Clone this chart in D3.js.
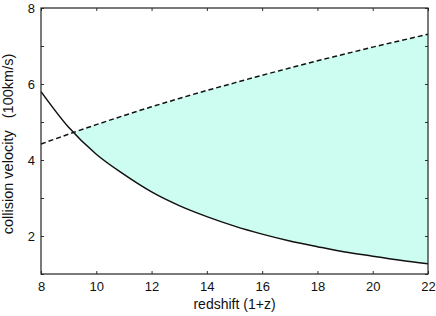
<!DOCTYPE html>
<html>
<head>
<meta charset="utf-8">
<script src="https://cdn.jsdelivr.net/npm/d3@7"></script>
<style>
  body { margin: 0; background: #fff; }
  text { font-family: "Liberation Sans", Arial, sans-serif; fill: #111; }
</style>
</head>
<body>
<div id="container"></div>
<script>
const WIDTH = 436;
const HEIGHT = 316;
const MARGIN = { TOP: 8, BOTTOM: 42, LEFT: 41, RIGHT: 8 };

const width = WIDTH - MARGIN.LEFT - MARGIN.RIGHT;
const height = HEIGHT - MARGIN.TOP - MARGIN.BOTTOM;

// redshift (1+z) sample points
const redshift = [8, 9, 10, 11, 12, 13, 14, 15, 16, 17, 18, 19, 20, 21, 22];
// solid curve, decreasing
const solidVel = [5.80, 4.86, 4.15, 3.62, 3.16, 2.80, 2.51, 2.26, 2.05, 1.87, 1.72, 1.58, 1.47, 1.36, 1.27];
// dashed curve, increasing
const dashedVel = [4.42, 4.68, 4.93, 5.17, 5.40, 5.62, 5.83, 6.03, 6.23, 6.42, 6.61, 6.79, 6.97, 7.14, 7.31];

const xTicks = [8, 10, 12, 14, 16, 18, 20, 22];
const yTicks = [1, 2, 3, 4, 5, 6, 7, 8];
const yLabels = [2, 4, 6, 8];

const points = redshift.map((z, i) => ({ z, s: solidVel[i], d: dashedVel[i] }));

const svg = d3.select('#container')
  .append('svg')
    .attr('width', WIDTH)
    .attr('height', HEIGHT);

const g = svg.append('g')
    .attr('transform', `translate(${MARGIN.LEFT}, ${MARGIN.TOP})`);

const x = d3.scaleLinear().domain([8, 22]).range([0, width]);
const y = d3.scaleLinear().domain([1, 8]).range([height, 0]);

// clip: only the region above the solid curve
g.append('clipPath')
    .attr('id', 'aboveSolid')
  .append('path')
    .attr('d', d3.area()
      .x(p => x(p.z))
      .y0(p => y(p.s))
      .y1(0)
      .curve(d3.curveMonotoneX)(points));

g.append('path')
    .attr('clip-path', 'url(#aboveSolid)')
    .attr('fill', '#ccfdf0')
    .attr('d', d3.area()
      .x(p => x(p.z))
      .y0(p => y(p.s))
      .y1(p => y(p.d))
      .curve(d3.curveMonotoneX)(points));

g.append('path')
    .attr('fill', 'none')
    .attr('stroke', '#111')
    .attr('stroke-width', 1.5)
    .attr('d', d3.line().x(p => x(p.z)).y(p => y(p.s)).curve(d3.curveMonotoneX)(points));

g.append('path')
    .attr('fill', 'none')
    .attr('stroke', '#111')
    .attr('stroke-width', 1.5)
    .attr('stroke-dasharray', '5,3')
    .attr('d', d3.line().x(p => x(p.z)).y(p => y(p.d)).curve(d3.curveMonotoneX)(points));

// axes with inward ticks on all sides
const tick = 3;
const axisStyle = sel => {
  sel.select('.domain').remove();
  sel.selectAll('line').attr('stroke', '#333');
  sel.selectAll('text').attr('font-size', 13).attr('font-family', '"Liberation Sans", Arial, sans-serif');
};

g.append('g')
    .attr('transform', `translate(0, ${height})`)
    .call(d3.axisBottom(x).tickValues(xTicks).tickSizeInner(-tick).tickSizeOuter(0).tickPadding(8))
    .call(axisStyle);

g.append('g')
    .call(d3.axisTop(x).tickValues(xTicks).tickSizeInner(-tick).tickSizeOuter(0).tickFormat(''))
    .call(axisStyle);

g.append('g')
    .call(d3.axisLeft(y).tickValues(yTicks).tickSizeInner(-tick).tickSizeOuter(0).tickPadding(6)
      .tickFormat(v => yLabels.includes(v) ? v : ''))
    .call(axisStyle);

g.append('g')
    .attr('transform', `translate(${width}, 0)`)
    .call(d3.axisRight(y).tickValues(yTicks).tickSizeInner(-tick).tickSizeOuter(0).tickFormat(''))
    .call(axisStyle);

g.append('rect')
    .attr('width', width)
    .attr('height', height)
    .attr('fill', 'none')
    .attr('stroke', '#222')
    .attr('stroke-width', 1.2);

svg.append('text')
    .attr('x', MARGIN.LEFT + width / 2)
    .attr('y', 309)
    .attr('text-anchor', 'middle')
    .attr('font-size', 14)
    .text('redshift (1+z)');

svg.append('text')
    .attr('transform', `translate(13, 144) rotate(-90)`)
    .attr('text-anchor', 'middle')
    .attr('font-size', 14.5)
    .attr('xml:space', 'preserve')
    .style('white-space', 'pre')
    .text('collision velocity   (100km/s)');
</script>
</body>
</html>
